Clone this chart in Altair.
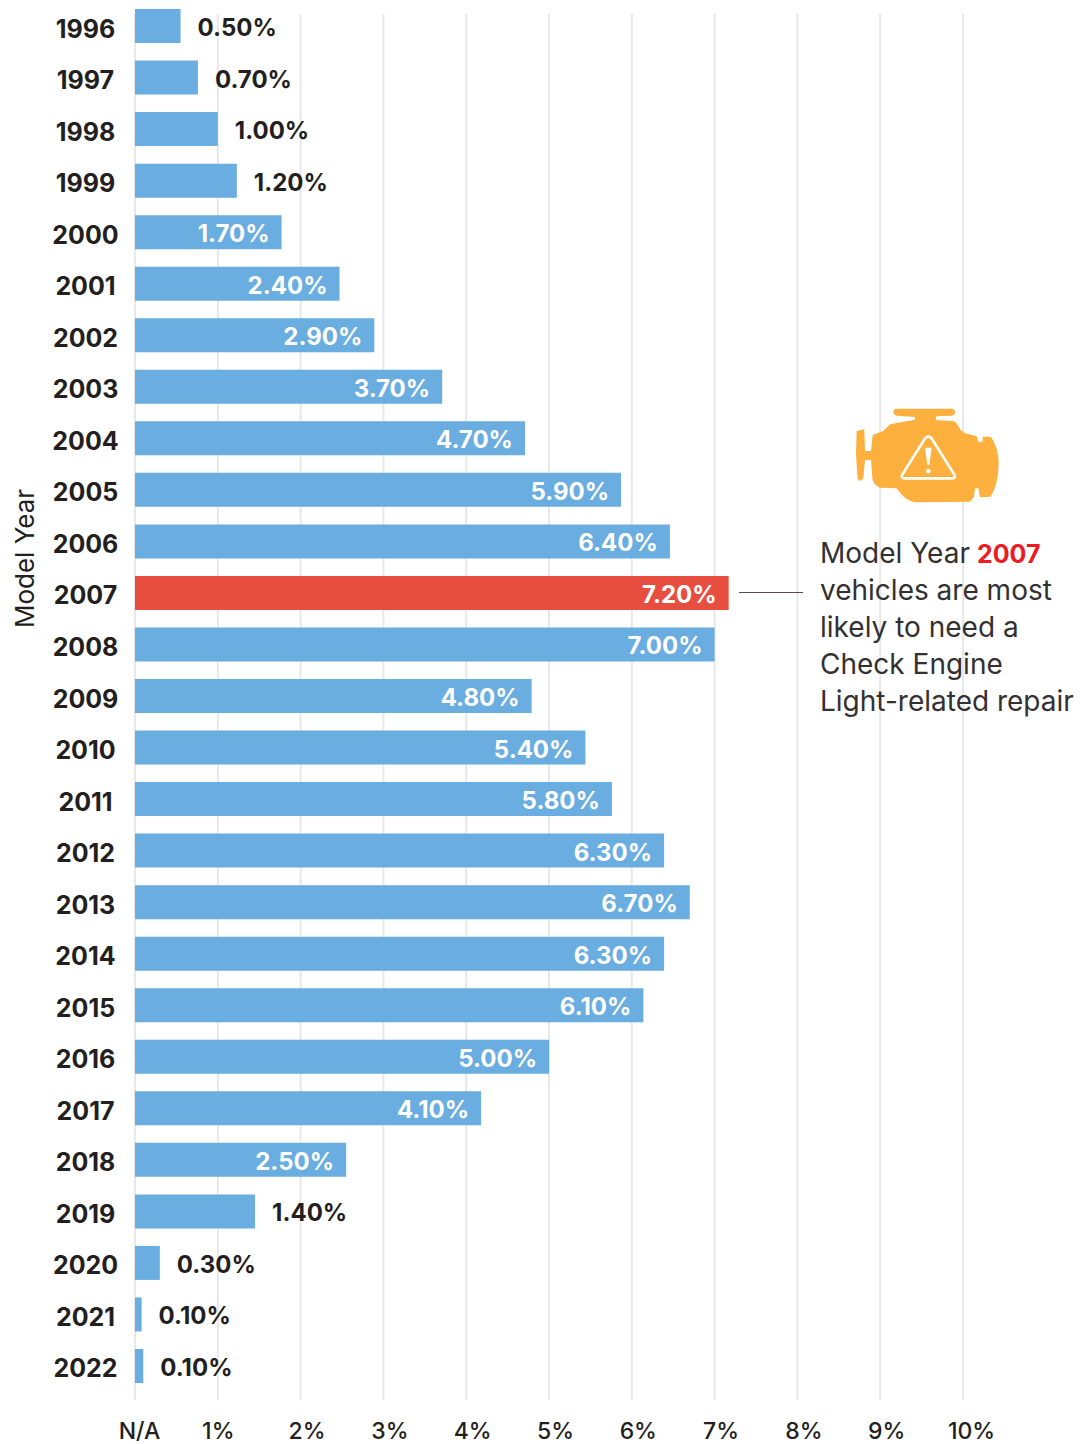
import altair as alt
import pandas as pd

years = list(range(1996, 2023))
labels = [0.5, 0.7, 1.0, 1.2, 1.7, 2.4, 2.9, 3.7, 4.7, 5.9, 6.4, 7.2, 7.0, 4.8, 5.4, 5.8,
          6.3, 6.7, 6.3, 6.1, 5.0, 4.1, 2.5, 1.4, 0.3, 0.1, 0.1]
# bar lengths as drawn in the picture (they differ slightly from the printed labels)
drawn = [0.55, 0.76, 1.0, 1.23, 1.77, 2.47, 2.89, 3.71, 4.71, 5.87, 6.46, 7.17, 7.0, 4.79,
         5.44, 5.76, 6.39, 6.70, 6.39, 6.14, 5.0, 4.18, 2.55, 1.45, 0.3, 0.08, 0.1]
ticks = list(range(0, 11))
note_lines = ["vehicles are most", "likely to need a", "Check Engine", "Light-related repair"]

FONT = "Inter"
BLUE = "#6aade0"
RED = "#e84e40"
DARK = "#231f20"
GRID = "#e8e8e8"

df = pd.DataFrame({"year": years, "value": labels, "drawn": drawn})
df["label"] = df["value"].map(lambda v: f"{v:.2f}%")
grid_df = pd.DataFrame({"t": ticks})

x_scale = alt.Scale(domain=[0, 10], nice=False, zero=False, padding=0)
y_scale = alt.Scale(domain=[1995.65, 2022.66], nice=False, zero=False, reverse=True, padding=0)

grid = alt.Chart(grid_df).mark_rule(color=GRID, strokeWidth=2).encode(
    x=alt.X("t:Q", scale=x_scale), y=alt.value(6), y2=alt.value(1392)
)

bars = alt.Chart(df).mark_bar(size=34, orient="horizontal").encode(
    x=alt.X(
        "drawn:Q", scale=x_scale, title=None,
        axis=alt.Axis(
            values=ticks, grid=False, ticks=False, domain=False,
            labelExpr="datum.value == 0 ? 'N/A' : datum.value + '%'",
            labelFont=FONT, labelFontSize=23, labelFontWeight=500, labelColor=DARK,
            labelPadding=20, labelOverlap=False, labelFlush=False,
            labelOffset=alt.ExprRef("datum.value == 0 ? 4 : datum.value == 1 ? 0 : datum.value == 10 ? 8 : 6"),
        ),
    ),
    y=alt.Y(
        "year:Q", scale=y_scale, title="Model Year",
        axis=alt.Axis(
            values=years, format="d", grid=False, ticks=False, domain=False,
            labelFont=FONT, labelFontSize=25, labelFontWeight=700, labelColor=DARK,
            labelAlign="center", labelPadding=50, labelOffset=3, labelOverlap=False, labelFlush=False,
            titleFont=FONT, titleFontSize=26, titleFontWeight=400, titleColor=DARK,
            titleX=-97, titleY=550,
        ),
    ),
    color=alt.condition(alt.datum.year == 2007, alt.value(RED), alt.value(BLUE)),
)

outside = alt.Chart(df).transform_filter(alt.datum.value <= 1.4).mark_text(
    font=FONT, fontSize=24, fontWeight=700, color=DARK, align="left", baseline="middle", dx=17, dy=3
).encode(x=alt.X("drawn:Q", scale=x_scale), y=alt.Y("year:Q", scale=y_scale), text="label:N")

inside = alt.Chart(df).transform_filter(alt.datum.value > 1.4).mark_text(
    font=FONT, fontSize=24, fontWeight=700, color="white", align="right", baseline="middle", dx=-12, dy=3
).encode(x=alt.X("drawn:Q", scale=x_scale), y=alt.Y("year:Q", scale=y_scale), text="label:N")

# callout
leader = alt.Chart(pd.DataFrame({"a": [0]})).mark_rule(color="#5a4a4a", strokeWidth=1).encode(
    x=alt.value(604), x2=alt.value(668), y=alt.value(584.5)
)


def note(text, x, y, color="#333031", weight=400, size=28):
    return alt.Chart(pd.DataFrame({"t": [text]})).mark_text(
        font=FONT, fontSize=size, fontWeight=weight, color=color, align="left", baseline="middle"
    ).encode(x=alt.value(x), y=alt.value(y), text="t:N")


notes = [note("Model Year", 685, 547), note("2007", 842, 547, "#ed1c24", 700, 25)]
for i, line in enumerate(note_lines):
    notes.append(note(line, 685, 584 + 37 * i))

# engine icon, path in units of a 3x crop around the icon centre
ENGINE = ("M-94 -139 L71 -139 Q81 -139 81 -128 Q81 -118 71 -118 L26 -116 Q21 -112 26 -104 L76 -102 L86 -95 "
          "L98 -75 L111 -65 L146 -56 L151 -40 L164 -40 L164 -55 L188 -55 Q211 -25 212 25 Q211 90 188 125 "
          "L156 127 L151 100 L141 100 L138 125 L126 140 L-39 142 Q-69 138 -94 100 L-144 98 Q-164 90 -167 70 "
          "L-171 15 L-189 15 L-194 70 L-202 78 L-211 72 L-216 -2 L-214 -72 L-191 -77 L-189 -12 L-171 -12 "
          "L-166 -60 L-134 -72 L-114 -92 L-39 -106 L-39 -114 L-94 -118 Q-104 -120 -104 -128 Q-104 -139 -94 -139 Z")
TRIANGLE = "M1 -55 Q8 -55 12 -48 L80 60 Q84 70 72 70 L-70 70 Q-82 70 -78 60 L-10 -48 Q-6 -55 1 -55 Z"
MARK = ("M-9 -22 L11 -22 L4 30 L-2 30 Z M1 41 A7 7 0 1 1 0.99 41 Z")
ICON_SIZE = 4 / 9
one = pd.DataFrame({"a": [0]})
icon = alt.Chart(one).mark_point(shape=ENGINE, filled=True, fill="#fdb03d", opacity=1, size=ICON_SIZE, strokeWidth=0).encode(
    x=alt.value(793), y=alt.value(447))
tri = alt.Chart(one).mark_point(shape=TRIANGLE, filled=False, stroke="white", opacity=1, size=ICON_SIZE, strokeWidth=2.6).encode(
    x=alt.value(793), y=alt.value(447))
excl = alt.Chart(one).mark_point(shape=MARK, filled=True, fill="white", opacity=1, size=ICON_SIZE, strokeWidth=0).encode(
    x=alt.value(793), y=alt.value(447))

chart = alt.layer(grid, bars, outside, inside, leader, *notes, icon, tri, excl).resolve_scale(
    x="shared", y="shared"
).properties(
    width=828, height=1392,
    autosize=alt.AutoSizeParams(type="none"),
    padding={"left": 127, "top": 0, "right": 115, "bottom": 44},
).configure_view(stroke=None)

chart.save("out.html", embed_options={"renderer": "svg", "actions": False})
